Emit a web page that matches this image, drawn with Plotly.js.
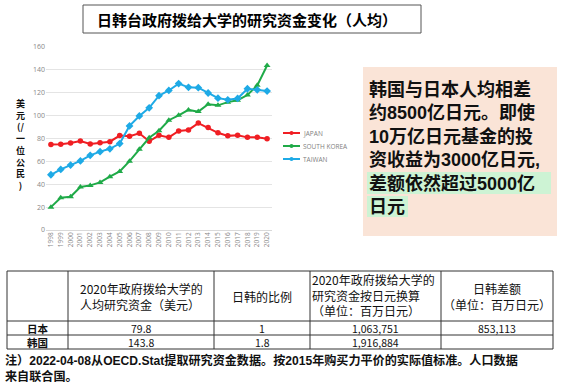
<!DOCTYPE html>
<html><head><meta charset="utf-8">
<script src="https://cdn.plot.ly/plotly-3.0.1.min.js"></script>
<style>html,body{margin:0;padding:0;background:#fff;overflow:hidden;} #chart{width:567px;height:386px;}</style>
</head><body><div id="chart"></div>
<script>
// ---- data ----
const years = [1998,1999,2000,2001,2002,2003,2004,2005,2006,2007,2008,2009,2010,2011,2012,2013,2014,2015,2016,2017,2018,2019,2020];
const japan = [74.7,75.0,76.0,77.8,75.3,76.3,77.2,82.6,82.0,84.6,77.6,82.8,81.0,86.6,87.5,93.5,89.6,85.0,82.3,82.8,81.0,81.0,79.8];
const korea = [20.0,28.2,29.0,37.6,39.0,41.6,46.6,51.2,60.2,70.6,80.6,86.8,96.0,100.3,105.0,103.5,110.0,109.0,111.8,113.5,118.0,126.5,143.8];
const taiwan = [48.3,53.0,56.8,60.4,65.3,68.5,71.0,75.6,91.0,99.7,106.8,117.4,122.0,128.0,124.7,124.4,119.8,115.3,113.8,115.0,123.5,122.6,121.5];
const seriesNames = ['JAPAN','SOUTH KOREA','TAIWAN'];
const seriesColors = ['#F01E23','#1FAA48','#1EAAE6'];
const seriesSymbols = ['circle','triangle-up','diamond'];
const titleText = '日韩台政府拨给大学的研究资金变化（人均）';
const yTitleItems = ['美','元','(/','一','位','公','民',')'];
const boxLines = ['韩国与日本人均相差','约8500亿日元。即使','10万亿日元基金的投','资收益为3000亿日元,','差额依然超过5000亿','日元'];
const tableHeader = ['', '2020年政府拨给大学的<br>人均研究资金（美元）', '日韩的比例', '2020年政府拨给大学的<br>研究资金按日元换算<br>（单位：百万日元）', '日韩差额<br>（单位：百万日元）'];
const rowLabels = ['日本','韩国'];
const perCapitaUSD = ['79.8','143.8'];
const ratioJK = ['1','1.8'];
const totalJPY = ['1,063,751','1,916,884'];
const gapJPY = ['853,113',''];
const footLines = ['注）2022-04-08从OECD.Stat提取研究资金数据。按2015年购买力平价的实际值标准。人口数据','来自联合国。'];

// ---- layout helpers ----
const L=46, T=47, W=226, H=183;
const px = x => (x-L)/W;
const py = y => 1-(y-T)/H;
const CJK = '"Noto Sans CJK SC","Noto Sans",sans-serif';
const CJK2 = '"Liberation Sans","Noto Sans CJK SC",sans-serif';

const seriesData = [japan, korea, taiwan];
const traces = seriesData.map((vals,i)=>({
  x: years, y: vals, type:'scatter', mode:'lines+markers', name: seriesNames[i],
  line:{color:seriesColors[i], width:2},
  marker:{color:seriesColors[i], symbol:seriesSymbols[i], size: i===0?5.5:6},
  showlegend:false
}));

const shapes = [];
const annotations = [];

// title box
shapes.push({type:'rect', xref:'paper', yref:'paper', x0:px(83), x1:px(421), y0:py(5), y1:py(33), line:{color:'#555', width:1}, fillcolor:'#fff'});
annotations.push({xref:'paper', yref:'paper', x:px(95), y:py(19), xanchor:'left', yanchor:'middle', showarrow:false, text:'<b>'+titleText+'</b>', font:{family:CJK, size:15, color:'#000'}});

// y axis title (stacked characters, one text block)
annotations.push({xref:'paper', yref:'paper', x:px(20), y:py(144), xanchor:'center', yanchor:'middle', align:'center', showarrow:false,
  text:'<b>'+yTitleItems.join('<br>')+'</b>', font:{family:CJK, size:9, color:'#111'}});

// custom legend
seriesNames.forEach((nm,i)=>{
  const yy = 133 + i*13;
  shapes.push({type:'line', xref:'paper', yref:'paper', x0:px(283), x1:px(300), y0:py(yy), y1:py(yy), line:{color:seriesColors[i], width:2}});
  shapes.push({type:'circle', xref:'paper', yref:'paper', x0:px(289.5), x1:px(293.5), y0:py(yy-2), y1:py(yy+2), line:{color:seriesColors[i], width:0}, fillcolor:seriesColors[i]});
  annotations.push({xref:'paper', yref:'paper', x:px(301), y:py(yy), xanchor:'left', yanchor:'middle', showarrow:false, text:nm, font:{family:'Open Sans, sans-serif', size:6.5, color:'#7f7f7f'}});
});

// text box
shapes.push({type:'rect', xref:'paper', yref:'paper', x0:px(363), x1:px(557), y0:py(67), y1:py(236), line:{width:0}, fillcolor:'#FAE4D7'});
shapes.push({type:'rect', xref:'paper', yref:'paper', x0:px(367), x1:px(551), y0:py(172), y1:py(194), line:{width:0}, fillcolor:'#CDF3D4'});
shapes.push({type:'rect', xref:'paper', yref:'paper', x0:px(367), x1:px(408), y0:py(196), y1:py(217), line:{width:0}, fillcolor:'#CDF3D4'});
annotations.push({xref:'paper', yref:'paper', x:px(368), y:py(147.5), xanchor:'left', yanchor:'middle', align:'left', showarrow:false, borderpad:0,
  text:'<b>'+boxLines.join('<br>')+'</b>', font:{family:CJK2, size:18, color:'#111'}});

// table
const cols = [7,68,214,310,441,553];
const rows = [271,321,335,349];
cols.forEach(c=>shapes.push({type:'line', xref:'paper', yref:'paper', x0:px(c), x1:px(c), y0:py(rows[0]), y1:py(rows[3]), line:{color:'#333', width:1}}));
rows.forEach(r=>shapes.push({type:'line', xref:'paper', yref:'paper', x0:px(cols[0]), x1:px(cols[5]), y0:py(r), y1:py(r), line:{color:'#333', width:1}}));
const hdrPos = [null, {x:79, a:'left', y:296.5}, {x:262, a:'center', y:296}, {x:311, a:'left', y:295}, {x:497, a:'center', y:296}];
tableHeader.forEach((t,i)=>{
  if(!t) return;
  const p = hdrPos[i];
  annotations.push({xref:'paper', yref:'paper', x:px(p.x), y:py(p.y), xanchor:p.a, yanchor:'middle', align:p.a, showarrow:false, borderpad:0, text:t, font:{family:CJK, size:12, color:'#111'}});
});
const bodyCols = [rowLabels, perCapitaUSD, ratioJK, totalJPY, gapJPY];
[0,1].forEach(r=>{
  const yc = (rows[r+1]+rows[r+2])/2;
  bodyCols.forEach((col,c)=>{
    if(!col[r]) return;
    annotations.push({xref:'paper', yref:'paper', x:px((cols[c]+cols[c+1])/2), y:py(yc), xanchor:'center', yanchor:'middle', showarrow:false, borderpad:0,
      text: c===0 ? '<b>'+col[r]+'</b>' : col[r], font:{family:CJK, size:10.5, color:'#111'}});
  });
});

// footnote
annotations.push({xref:'paper', yref:'paper', x:px(4), y:py(368.5), xanchor:'left', yanchor:'middle', align:'left', showarrow:false, borderpad:0,
  text:'<b>'+footLines.join('<br>')+'</b>', font:{family:CJK2, size:12.1, color:'#111'}});

const layout = {
  width:567, height:386,
  margin:{l:L, r:567-L-W, t:T, b:386-T-H, pad:0},
  paper_bgcolor:'#fff', plot_bgcolor:'#fff',
  showlegend:false,
  xaxis:{range:[1997.5,2020.5], tickmode:'array', tickvals:years, ticktext:years.map(String), tickangle:-90,
    tickfont:{family:'Open Sans, sans-serif', size:6.5, color:'#888'}, showgrid:false, zeroline:false, showline:false, ticks:'', fixedrange:true},
  yaxis:{range:[0,160], dtick:20, tick0:0, tickfont:{family:'Open Sans, sans-serif', size:7, color:'#888'},
    gridcolor:'#e4e4e4', gridwidth:1, zeroline:true, zerolinecolor:'#d9d9d9', zerolinewidth:1, showline:false, ticks:'', fixedrange:true},
  shapes: shapes,
  annotations: annotations
};
Plotly.newPlot('chart', traces, layout, {displayModeBar:false, staticPlot:true});
</script>
</body></html>
